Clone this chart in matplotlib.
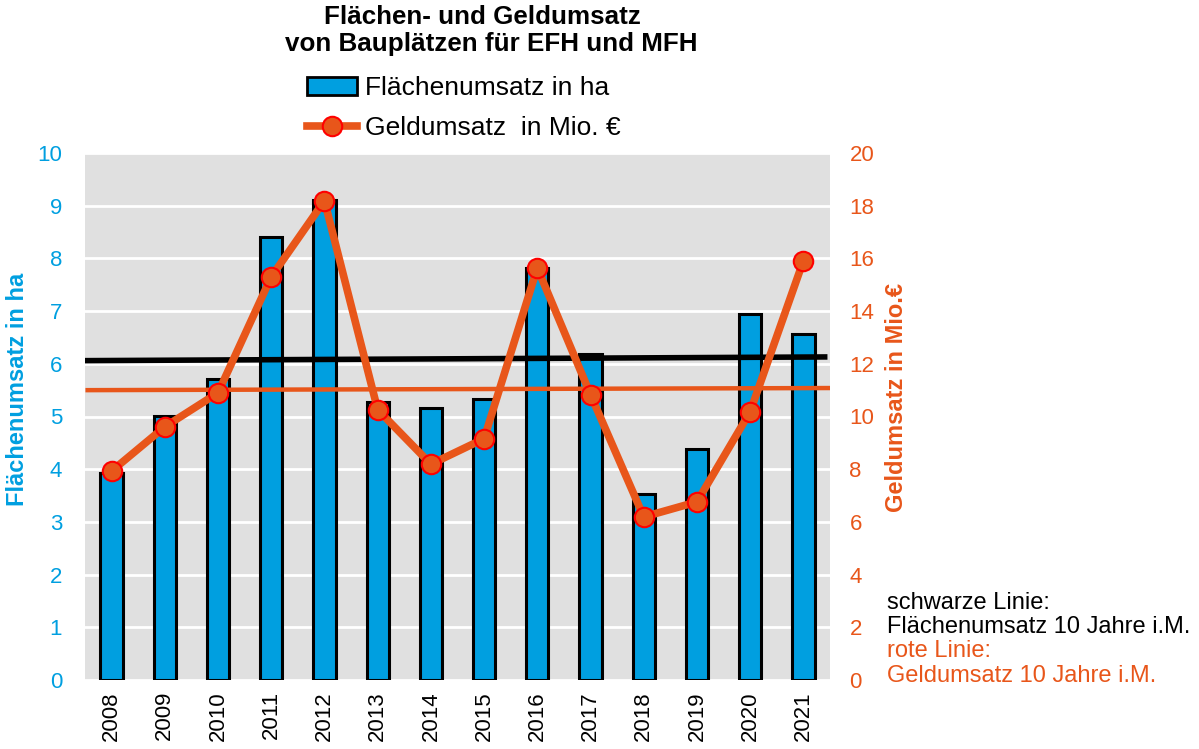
import matplotlib
matplotlib.use("Agg")
import matplotlib.pyplot as plt
from matplotlib.patches import Patch
from matplotlib.lines import Line2D

plt.rcParams['font.family'] = ['Liberation Sans', 'DejaVu Sans']

years = ['2008', '2009', '2010', '2011', '2012', '2013', '2014', '2015',
         '2016', '2017', '2018', '2019', '2020', '2021']
flaeche_ha = [3.93, 5.01, 5.71, 8.41, 9.11, 5.28, 5.16, 5.33,
              7.82, 6.19, 3.52, 4.38, 6.94, 6.56]
geld_mio = [7.93, 9.61, 10.9, 15.3, 18.19, 10.26, 8.19, 9.16,
            15.64, 10.83, 6.19, 6.76, 10.18, 15.91]
mean_flaeche = [6.06, 6.13]   # 10-year mean line (left axis), start/end
mean_geld = [11.0, 11.08]     # 10-year mean line (right axis), start/end

BLUE = '#009FE0'
ORANGE = '#E8561A'
RED = '#FF0000'
GRAY = '#E0E0E0'

W, H = 1199, 749
fig = plt.figure(figsize=(W / 100, H / 100), dpi=100)
ax = fig.add_axes([85 / W, 1 - 680 / H, 745 / W, 527 / H])
ax.set_facecolor(GRAY)
x = list(range(len(years)))
ax.bar(x, flaeche_ha, width=0.42, color=BLUE, edgecolor='black', linewidth=2.2, zorder=3)
ax.set_xlim(-0.5, len(years) - 0.5)
ax.set_ylim(0, 10)
ax.set_yticks(range(0, 11))
ax.yaxis.grid(True, color='white', linewidth=2, zorder=1)
ax.set_axisbelow(True)
for s in ax.spines.values():
    s.set_visible(False)
ax.tick_params(axis='both', length=0)
ax.tick_params(axis='y', colors=BLUE, labelsize=16, pad=16.5)
ax.set_xticks(x)
ax.set_xticklabels(years, rotation=90, fontsize=16, color='black')
ax.tick_params(axis='x', pad=8)
ax.plot([-0.5, len(years) - 0.6], mean_flaeche, color='black', linewidth=4, zorder=4)

ax2 = ax.twinx()
ax2.set_ylim(0, 20)
ax2.set_yticks(range(0, 21, 2))
for s in ax2.spines.values():
    s.set_visible(False)
ax2.tick_params(axis='y', length=0, colors=ORANGE, labelsize=16, pad=14)
ax2.plot([-0.45, len(years) - 0.53], mean_geld, color=ORANGE, linewidth=3.2, zorder=2)
ax2.plot(x, geld_mio, color=ORANGE, linewidth=5.5, marker='o', markersize=14,
         markerfacecolor=ORANGE, markeredgecolor=RED, markeredgewidth=1.5, zorder=5)

fig.text(18 / W, 1 - 389 / H, 'Flächenumsatz in ha', rotation=90, ha='center', va='center',
         color=BLUE, fontsize=17, fontweight='bold')
fig.text(897 / W, 1 - 398 / H, 'Geldumsatz in Mio.€', rotation=90, ha='center', va='center',
         color=ORANGE, fontsize=17, fontweight='bold')

fig.text(482.5 / W, 1 - 17 / H, 'Flächen- und Geldumsatz', ha='center', va='center',
         fontsize=18.7, fontweight='bold')
fig.text(491.5 / W, 1 - 44 / H, 'von Bauplätzen für EFH und MFH', ha='center', va='center',
         fontsize=18.7, fontweight='bold')

handles = [Patch(facecolor=BLUE, edgecolor='black', linewidth=2),
           Line2D([0], [0], color=ORANGE, linewidth=5.5, marker='o', markersize=14,
                  markerfacecolor=ORANGE, markeredgecolor=RED, markeredgewidth=1.5)]
fig.legend(handles, ['Flächenumsatz in ha', 'Geldumsatz  in Mio. €'],
           loc='upper left', bbox_to_anchor=(307 / W, 1 - 76 / H), frameon=False,
           fontsize=19, handlelength=1.9, handletextpad=0.3, labelspacing=0.6,
           borderpad=0, borderaxespad=0)

fig.text(887 / W, 1 - 603 / H, 'schwarze Linie:', ha='left', va='center',
         fontsize=17, color='black')
fig.text(887 / W, 1 - 627 / H, 'Flächenumsatz 10 Jahre i.M.', ha='left', va='center',
         fontsize=17, color='black')
fig.text(887 / W, 1 - 651 / H, 'rote Linie:', ha='left', va='center',
         fontsize=17, color=ORANGE)
fig.text(887 / W, 1 - 676 / H, 'Geldumsatz 10 Jahre i.M.', ha='left', va='center',
         fontsize=17, color=ORANGE)

fig.savefig('out.png', dpi=100)
